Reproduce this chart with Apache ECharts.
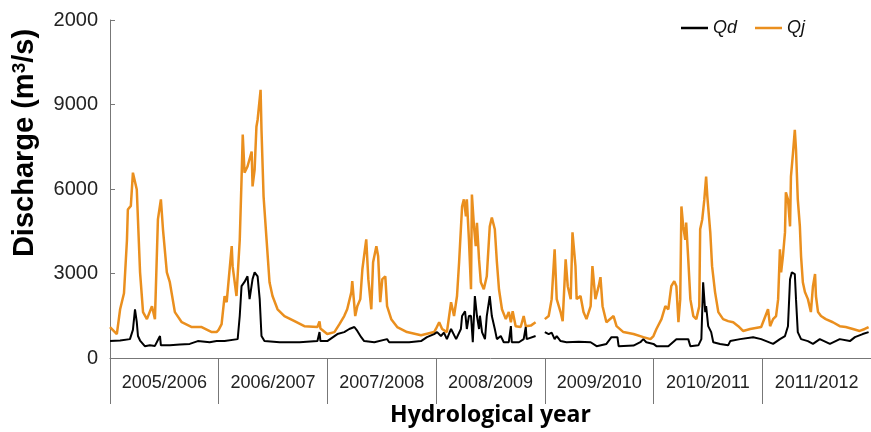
<!DOCTYPE html>
<html>
<head>
<meta charset="utf-8">
<script src="https://cdn.jsdelivr.net/npm/echarts@6/dist/echarts.min.js"></script>
<style>
  html, body { margin: 0; padding: 0; background: #fff; }
  #chart { width: 871px; height: 432px; }
</style>
</head>
<body>
<div id="chart"></div>
<script>
// Hydrological years shown along the bottom
const years = ['2005/2006', '2006/2007', '2007/2008', '2008/2009', '2009/2010', '2010/2011', '2011/2012'];
// Y tick labels (as printed on the axis)
const yTickLabels = ['0', '3000', '6000', '9000', '2000'];
const yMax = 12000;
const yStep = 3000;
const totalDays = 2557;

// Discharge records: [day since start of record, discharge m3/s]
const qj0506 = [[0,1100],[23,850],[34,1730],[47,2300],[57,4200],[60,5270],[70,5400],[77,6580],[90,5980],[94,4900],[101,3040],[111,1630],[124,1380],[141,1840],[151,1380],[161,4920],[171,5630],[178,4570],[191,3040],[201,2690],[218,1630],[241,1270],[275,1100],[308,1100],[342,920],[358,920]];
const qj0607 = [[365,1000],[375,1200],[385,2200],[392,1980],[409,3970],[412,3260],[425,2200],[436,4200],[442,6340],[446,7930],[452,6580],[462,6800],[476,7330],[479,6090],[486,6690],[492,8210],[496,8460],[506,9520],[509,8100],[516,5740],[526,4210],[536,2690],[546,2200],[563,1730],[586,1490],[620,1310],[653,1130],[697,1100],[704,1300],[707,1050],[730,850]];
const qj0708 = [[754,920],[771,1200],[787,1490],[797,1730],[811,2340],[814,2730],[824,1490],[831,1840],[841,2090],[848,3150],[858,3970],[861,4210],[868,2800],[878,1730],[884,3400],[895,3970],[901,3610],[908,1980],[915,2800],[925,2900],[931,1840],[945,1380],[965,1100],[998,920],[1045,810],[1089,920]];
const qj0809 = [[1095,1030],[1106,1270],[1116,1030],[1132,920],[1146,1980],[1156,1490],[1166,2200],[1173,3400],[1183,5380],[1189,5630],[1196,5030],[1199,5630],[1206,4210],[1213,2440],[1216,5800],[1223,4670],[1229,3970],[1233,4800],[1240,3500],[1246,2690],[1256,2440],[1266,2900],[1276,4670],[1283,4990],[1293,4570],[1300,3400],[1307,2440],[1317,1730],[1330,1380],[1340,1630],[1347,1270],[1353,1660],[1363,1130],[1380,1100],[1390,1490],[1397,1130],[1414,1150],[1430,1270]];
const qj0910 = [[1461,1380],[1474,1490],[1484,2090],[1494,3860],[1501,2090],[1514,1630],[1521,1310],[1531,3500],[1538,2550],[1548,2090],[1554,4460],[1564,3260],[1568,2090],[1581,2200],[1591,1630],[1601,1380],[1615,1840],[1621,3260],[1631,2090],[1642,2550],[1648,2870],[1655,1840],[1668,1270],[1692,1490],[1702,1130],[1725,920],[1759,850],[1792,740],[1816,670],[1826,780]];
const qj1011 = [[1836,1030],[1853,1380],[1866,1840],[1876,1730],[1886,2550],[1896,2730],[1903,2550],[1910,1270],[1916,2090],[1920,5380],[1926,4670],[1933,4200],[1936,4810],[1943,3500],[1950,2090],[1960,1490],[1970,1380],[1980,1840],[1983,4570],[1990,4920],[1997,5630],[2003,6440],[2007,5740],[2017,4460],[2023,3260],[2033,2340],[2044,1630],[2060,1380],[2077,1310],[2094,1270],[2111,1130],[2127,960],[2151,1030],[2188,1100]];
const qj1112 = [[2194,1100],[2211,1730],[2218,1130],[2228,1380],[2238,1490],[2245,2090],[2251,3860],[2255,3040],[2261,3610],[2268,4460],[2271,5880],[2278,5630],[2285,4670],[2288,6440],[2295,7290],[2301,8100],[2305,7400],[2311,5630],[2318,4670],[2322,3610],[2328,2690],[2335,2340],[2345,2090],[2355,1630],[2362,2550],[2369,2980],[2372,2200],[2379,1630],[2389,1490],[2405,1380],[2429,1270],[2452,1130],[2472,1100],[2496,1030],[2519,960],[2536,1030],[2549,1100]];

const qd0506 = [[0,600],[34,620],[67,670],[77,1000],[84,1730],[90,1270],[94,780],[101,620],[107,600],[117,420],[134,450],[151,430],[164,700],[168,780],[171,450],[201,450],[235,480],[268,500],[295,600],[335,560],[358,600]];
const qd0607 = [[385,600],[429,670],[436,1500],[442,2550],[452,2700],[462,2900],[469,2090],[479,2800],[486,3040],[496,2900],[503,2090],[509,780],[519,600],[570,560],[637,560],[697,600],[704,920],[707,600],[730,600]];
const qd0708 = [[764,850],[787,920],[804,1030],[821,1100],[831,960],[844,740],[854,600],[888,560],[931,670],[938,560],[1005,560],[1045,600],[1065,740],[1089,850]];
const qd0809 = [[1099,920],[1112,780],[1122,900],[1132,670],[1146,1030],[1163,670],[1179,1030],[1183,1490],[1193,1660],[1199,1030],[1206,1490],[1213,1500],[1219,560],[1226,2200],[1233,1490],[1240,1030],[1243,1500],[1250,920],[1260,670],[1266,1490],[1276,2200],[1283,1490],[1293,1030],[1300,670],[1313,780],[1323,560],[1340,560],[1347,1130],[1350,560],[1374,560],[1390,670],[1397,1100],[1400,670],[1430,780]];
const qd0910 = [[1461,920],[1474,850],[1484,900],[1494,670],[1501,780],[1514,600],[1534,560],[1575,580],[1615,560],[1635,420],[1668,500],[1685,740],[1705,740],[1709,420],[1759,440],[1782,560],[1792,670],[1802,560],[1826,500]];
const qd1011 = [[1836,420],[1876,420],[1903,670],[1943,670],[1950,420],[1977,450],[1987,670],[1993,2690],[2000,1630],[2003,1840],[2010,1130],[2020,920],[2027,560],[2050,500],[2077,450],[2084,600],[2117,670],[2161,740],[2188,670]];
const qd1112 = [[2194,600],[2228,500],[2251,670],[2268,780],[2278,1130],[2285,2800],[2291,3040],[2301,2980],[2305,2090],[2311,920],[2322,670],[2345,600],[2362,500],[2385,670],[2419,500],[2452,670],[2486,600],[2503,740],[2529,850],[2549,920]];

// Missing record between 2008/2009 and 2009/2010
const gap = [[1445, null]];

const qj = [].concat(qj0506, qj0607, qj0708, qj0809, gap, qj0910, qj1011, qj1112);
const qd = [].concat(qd0506, qd0607, qd0708, qd0809, gap, qd0910, qd1011, qd1112);

const baseFont = 'Liberation Sans, Arial, sans-serif';

const chart = echarts.init(document.getElementById('chart'), null, { renderer: 'canvas' });
chart.setOption({
  animation: false,
  backgroundColor: '#ffffff',
  grid: { left: 110, right: 0, top: 20, bottom: 73, containLabel: false },
  legend: {
    left: 676, top: 14,
    icon: 'rect',
    itemWidth: 27, itemHeight: 2.5, itemGap: 18,
    textStyle: { fontFamily: baseFont, fontStyle: 'italic', fontSize: 18, color: '#111' },
    data: ['Qd', 'Qj']
  },
  // Rotated y-axis title
  graphic: [{
    type: 'text',
    x: 25, y: 143,
    rotation: Math.PI / 2,
    style: {
      text: 'Discharge (m{sup|3}/s)',
      fontFamily: baseFont, fontWeight: 'bold', fontSize: 29, fill: '#000',
      align: 'center', verticalAlign: 'middle',
      rich: {
        sup: { fontFamily: baseFont, fontWeight: 'bold', fontSize: 19, fill: '#000', verticalAlign: 'top', padding: [0, 0, 10, 0] }
      }
    }
  }],
  xAxis: [
    {
      type: 'value', min: 0, max: totalDays, show: false
    },
    {
      type: 'category', data: years, position: 'bottom', boundaryGap: true,
      axisLine: { show: true, lineStyle: { color: '#777', width: 1 } },
      axisTick: { show: true, interval: 0, length: 46, inside: false, lineStyle: { color: '#777', width: 1 } },
      axisLabel: { interval: 0, margin: 16, fontFamily: baseFont, fontSize: 18, color: '#222' },
      name: 'Hydrological year', nameLocation: 'middle', nameGap: 46,
      nameTextStyle: { fontFamily: 'Open Sans', fontWeight: 'bold', fontSize: 23, color: '#000' }
    }
  ],
  yAxis: {
    type: 'value', min: 0, max: yMax, interval: yStep,
    axisLine: { show: true, lineStyle: { color: '#777', width: 1 } },
    axisTick: { show: true, inside: true, length: 5, lineStyle: { color: '#777' } },
    splitLine: { show: false },
    axisLabel: {
      margin: 12, fontFamily: baseFont, fontSize: 20, color: '#222',
      formatter: v => yTickLabels[Math.round(v / yStep)]
    }
  },
  series: [
    {
      name: 'Qd', type: 'line', xAxisIndex: 0, data: qd, symbol: 'none', connectNulls: false,
      lineStyle: { color: '#000000', width: 2 }, itemStyle: { color: '#000000' }, z: 3
    },
    {
      name: 'Qj', type: 'line', xAxisIndex: 0, data: qj, symbol: 'none', connectNulls: false,
      lineStyle: { color: '#EA8F1E', width: 2.5 }, itemStyle: { color: '#EA8F1E' }, z: 2
    }
  ]
});
</script>
</body>
</html>
